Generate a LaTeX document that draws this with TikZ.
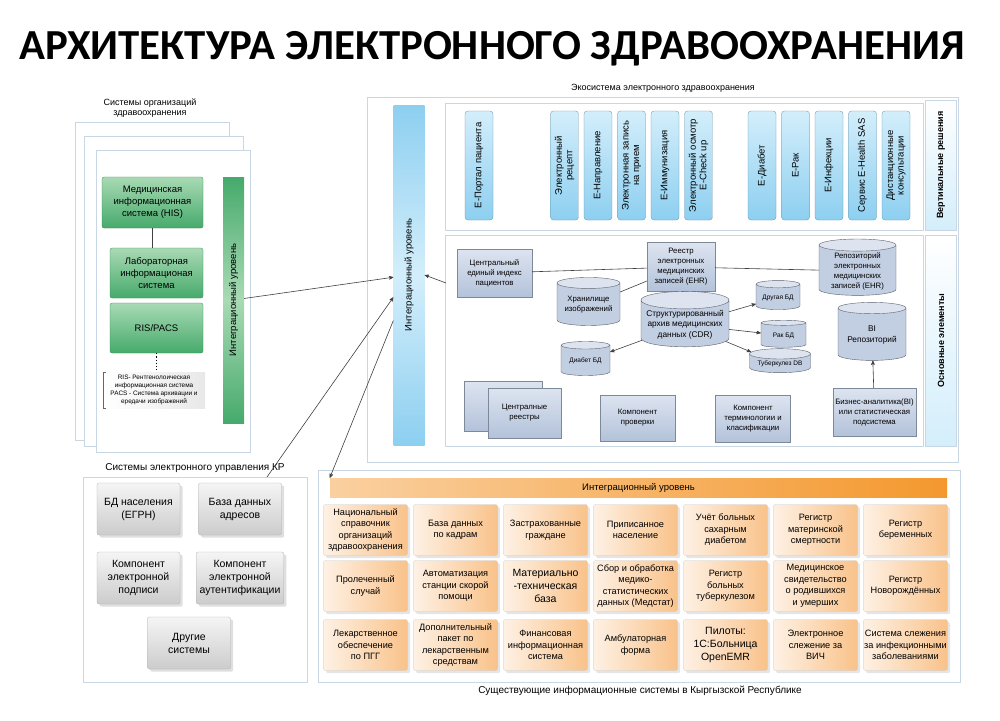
\documentclass[tikz,border=0pt]{standalone}
\usepackage{fontspec}
\setmainfont{Liberation Sans}
\newfontfamily\titlefont{Carlito}
\usepackage{tikz}
\usetikzlibrary{arrows,shapes.geometric,shadows}

\definecolor{framec}{HTML}{C9D6E4}
\definecolor{greenhi}{HTML}{A9DAB4}
\definecolor{greenlo}{HTML}{46AA6C}
\definecolor{bluehi}{HTML}{D3EEFB}
\definecolor{bluelo}{HTML}{8DCFF0}
\definecolor{corehi}{HTML}{DDE4F0}
\definecolor{corelo}{HTML}{B3C2DA}
\definecolor{orghi}{HTML}{FEF1E4}
\definecolor{orglo}{HTML}{F9C28A}
\definecolor{barhi}{HTML}{FAD0A0}
\definecolor{barlo}{HTML}{F4982E}

\tikzset{
  frame/.style={draw=framec, line width=1pt, fill=white},
  page/.style={draw=framec, line width=0.8pt, fill=white},
  caption/.style={font=\fontsize{9}{10.5}\selectfont, align=center},
  sidepanel/.style={rotate=90, draw=framec, line width=0.8pt, top color=white, bottom color=bluehi,
    font=\bfseries\fontsize{9}{10}\selectfont},
  medbox/.style={rectangle, rounded corners=2pt, top color=greenhi, bottom color=greenlo,
    draw=greenlo!80!black, line width=0.3pt, align=center, font=\fontsize{9.5}{12}\selectfont, inner sep=1pt},
  greenbar/.style={rotate=90, top color=greenlo, bottom color=greenlo, middle color=greenhi,
    font=\fontsize{9.5}{11}\selectfont},
  intbar/.style={rotate=90, top color=bluelo, bottom color=bluelo, middle color=bluehi,
    font=\fontsize{9.5}{11}\selectfont},
  vsol/.style={rotate=90, rounded corners=3pt, draw=bluelo!70!black, line width=0.3pt,
    top color=bluehi, bottom color=bluelo, minimum width=109pt, minimum height=28pt,
    inner sep=1pt, align=center, font=\fontsize{9.5}{10.5}\selectfont},
  corebox/.style={rectangle, draw=corelo!70!black, line width=0.3pt, top color=corehi,
    bottom color=corelo, minimum width=75pt, minimum height=47pt, inner sep=1pt, align=center,
    font=\fontsize{7.8}{10}\selectfont},
  coredb/.style={cylinder, shape border rotate=90, aspect=0.22, draw=corelo!50!black,
    line width=0.4pt, cylinder uses custom fill, cylinder body fill=corelo!80,
    cylinder end fill=corehi, inner sep=1pt, align=center, font=\fontsize{7.8}{10}\selectfont},
  govbox/.style={rectangle, rounded corners=2pt, draw=gray!60, line width=0.3pt, top color=gray!8,
    bottom color=gray!40, minimum width=83pt, minimum height=52pt, align=center,
    font=\fontsize{10.5}{13}\selectfont, drop shadow={opacity=0.25}},
  orgbox/.style={rectangle, rounded corners=2pt, draw=gray!40, line width=0.3pt, left color=orghi,
    right color=orglo, minimum width=84pt, minimum height=51pt, inner sep=0.5pt, align=center,
    font=\fontsize{9.2}{11.5}\selectfont, drop shadow={opacity=0.2}},
  link/.style={draw=black!75, line width=0.6pt},
}

\begin{document}
\begin{tikzpicture}[x=1pt,y=-1pt,>=stealth',node distance=90pt]
  \useasboundingbox[fill=white] (0,0) rectangle (1000,720);

  \node[font=\titlefont\bfseries\fontsize{42.8}{43}\selectfont] (title) at (492,49)
    {АРХИТЕКТУРА ЭЛЕКТРОННОГО ЗДРАВООХРАНЕНИЯ};

  % health organisations
  \node[caption] (orgcap) at (150,108) {Системы организаций\\здравоохранения};
  \draw[page] (75,122) rectangle (229,440);
  \draw[page] (84,136) rectangle (243,446);
  \draw[page] (96,150) rectangle (250,452);

  \node[medbox, minimum width=101pt, minimum height=51pt] (his) at (152.5,202.5)
    {Медицинская\\информационная\\система (HIS)};
  \node[medbox, minimum width=93pt, minimum height=50pt] (lis) at (156.5,273)
    {Лабораторная\\информационая\\система};
  \node[medbox, minimum width=93pt, minimum height=50pt] (ris) at (156.5,328) {RIS/PACS};
  \node[left color=white, right color=gray!18, minimum width=102pt, minimum height=36pt,
    inner sep=0pt, align=center, font=\fontsize{6.4}{8}\selectfont] (risnote) at (154,390)
    {RIS- Рентгенолоическая\\информационная система\\PACS - Система архивации и\\ередачи изображений};
  \draw[black!60, line width=0.5pt] ([xshift=3pt]risnote.north west) -| (risnote.south west)
    -- ([xshift=3pt]risnote.south west);
  \draw[link] (his.south) -- (his.south |- lis.north);
  \draw[dotted, line width=1.2pt] (ris.south) -- (ris.south |- risnote.north);

  \node[greenbar, minimum width=246pt, minimum height=21pt] (orgint) at (233.5,300)
    {Интеграционный уровень};

  % ecosystem
  \node[caption] (ecocap) at (663,88) {Экосистема электронного здравоохранения};
  \draw[frame] (367,97) rectangle (958,462);
  \draw[frame] (445,103) rectangle (923,230);
  \draw[frame] (445,235) rectangle (923,446);
  \node[sidepanel, minimum width=130pt, minimum height=31pt] (vpanel) at (941,165)
    {Вертикальные решения};
  \node[sidepanel, minimum width=211pt, minimum height=31pt] (cpanel) at (941,340.5)
    {Основные элементы};
  \node[intbar, minimum width=340pt, minimum height=31pt] (ecoint) at (409,275)
    {Интеграционный уровень};

  \node[vsol] (portal) at (479,165.5)   {E-Портал пациента};
  \node[vsol] (erx)    at (564.5,165.5) {Электронный\\рецепт};
  \node[vsol] (eref)   at (598,165.5)   {E-Направление};
  \node[vsol] (eapp)   at (631.5,165.5) {Электронная запись\\на прием};
  \node[vsol] (eimm)   at (665,165.5)   {E-Иммунизация};
  \node[vsol] (echeck) at (698.5,165.5) {Электронный осмотр\\E-Check up};
  \node[vsol] (ediab)  at (762,165.5)   {E-Диабет};
  \node[vsol] (ecanc)  at (795.5,165.5) {E-Рак};
  \node[vsol] (einf)   at (829,165.5)   {E-Инфекции};
  \node[vsol] (esas)   at (862.5,165.5) {Сервис E-Health SAS};
  \node[vsol] (etele)  at (896,165.5)   {Дистанционные\\консультации};

  \node[corebox, minimum height=48pt] (cidx) at (494.5,273) {Центральный\\единый индекс\\пациентов};
  \node[corebox, minimum width=68pt, minimum height=49pt] (ehr) at (681,267)
    {Реестр\\электронных\\медицинских\\записей (EHR)};
  \node[coredb, minimum width=77pt, minimum height=48pt] (repo) at (857.5,271)
    {Репозиторий\\электронных\\медицинских\\записей (EHR)};
  \node[coredb, minimum width=63pt, minimum height=48pt] (imgdb) at (588.5,305) {Хранилище\\изображений};
  \node[coredb, minimum width=88pt, minimum height=53pt, font=\fontsize{8.3}{10.5}\selectfont] (cdr)
    at (685,324.5) {Структурированный\\архив медицинских\\данных (CDR)};
  \node[coredb, minimum width=44pt, minimum height=29pt, font=\fontsize{6.5}{8}\selectfont] (otherdb)
    at (778,297.5) {Другая БД};
  \node[coredb, minimum width=45pt, minimum height=27pt, font=\fontsize{6.5}{8}\selectfont] (rakdb)
    at (783.5,335.5) {Рак БД};
  \node[coredb, minimum width=61pt, minimum height=24pt, font=\fontsize{6.5}{8}\selectfont] (tbdb)
    at (780,364) {Туберкулез DB};
  \node[coredb, minimum width=49pt, minimum height=34pt, font=\fontsize{6.5}{8}\selectfont] (diabdb)
    at (585.5,361) {Диабет БД};
  \node[coredb, minimum width=68pt, minimum height=58pt, font=\fontsize{8.3}{10.5}\selectfont] (bidb)
    at (872,335) {BI\\Репозиторий};
  \node[corebox, minimum width=78pt, minimum height=50pt] (regback) at (503,406) {};
  \node[corebox, minimum width=73pt, minimum height=50pt] (reg) at (524.5,413) {Централные\\реестры};
  \node[corebox, minimum height=46pt] (check) at (637.5,418) {Компонент\\проверки};
  \node[corebox] (term) at (753,419) {Компонент\\терминологии и\\класификации};
  \node[corebox, minimum width=83pt, minimum height=48pt] (bia) at (874.5,412)
    {Бизнес-аналитика(BI)\\или статистическая\\подсистема};

  \draw[link] (cidx) -- (ehr);
  \draw[link] (ehr) -- (repo);
  \draw[link] (ehr) -- (imgdb);
  \draw[link] (ehr) -- (cdr);
  \draw[link,->] (cdr) -- (otherdb);
  \draw[link,->] (cdr) -- (rakdb);
  \draw[link,->] (cdr) -- (tbdb);
  \draw[link,->] (cdr) -- (diabdb);
  \draw[link,->] (bia) -- (bidb);

  % e-government systems
  \node[caption, font=\fontsize{10}{12}\selectfont] (krcap) at (195,468) {Системы электронного управления КР};
  \draw[frame] (83,477) rectangle (307,682);
  \node[govbox] (popdb)  at (138.5,509) {БД населения\\(ЕГРН)};
  \node[govbox] (adrdb)  [right of=popdb, node distance=101.5pt] {База данных\\адресов};
  \node[govbox] (esign)  at (138.5,578) {Компонент\\электронной\\подписи};
  \node[govbox] (eauth)  [right of=esign, node distance=101.5pt] {Компонент\\электронной\\аутентификации};
  \node[govbox] (othsys) at (189,643) {Другие\\системы};

  % existing systems
  \draw[frame] (318,470) rectangle (960,682);
  \node[caption, font=\fontsize{10}{12}\selectfont] (excap) at (640,691)
    {Существующие информационные системы в Кыргызской Республике};
  \node[left color=barhi, right color=barlo, minimum width=617pt, minimum height=19pt, inner sep=0pt,
    font=\fontsize{9.5}{11}\selectfont] (orgbar) at (638.5,487.5) {Интеграционный уровень};

  \node[orgbox] (nsprav) at (365.5,530) {Национальный\\справочник\\организаций\\здравоохранения};
  \node[orgbox] (kadr)   [right of=nsprav] {База данных\\по кадрам};
  \node[orgbox] (insur)  [right of=kadr]   {Застрахованные\\граждане};
  \node[orgbox] (attach) [right of=insur]  {Приписанное\\население};
  \node[orgbox] (diab)   [right of=attach] {Учёт больных\\сахарным\\диабетом};
  \node[orgbox] (mmort)  [right of=diab]   {Регистр\\материнской\\смертности};
  \node[orgbox] (pregn)  [right of=mmort]  {Регистр\\беременных};

  \node[orgbox] (treat)  at (365.5,586) {Пролеченный\\случай};
  \node[orgbox] (ambul)  [right of=treat]  {Автоматизация\\станции скорой\\помощи};
  \node[orgbox, font=\fontsize{10.5}{13}\selectfont] (mtb) [right of=ambul] {Материально\\-техническая\\база};
  \node[orgbox] (medst)  [right of=mtb]    {Сбор и обработка\\медико-\\статистических\\данных (Медстат)};
  \node[orgbox] (tbreg)  [right of=medst]  {Регистр\\больных\\туберкулезом};
  \node[orgbox] (bdcert) [right of=tbreg]  {Медицинское\\свидетельство\\о родившихся\\и умерших};
  \node[orgbox] (newb)   [right of=bdcert] {Регистр\\Новорождённых};

  \node[orgbox] (drug)   at (365.5,645) {Лекарственное\\обеспечение\\по ПГГ};
  \node[orgbox] (dpack)  [right of=drug]   {Дополнительный\\пакет по\\лекарственным\\средствам};
  \node[orgbox] (fin)    [right of=dpack]  {Финансовая\\информационная\\система};
  \node[orgbox] (ambf)   [right of=fin]    {Амбулаторная\\форма};
  \node[orgbox, font=\fontsize{10.5}{13}\selectfont] (pilot) [right of=ambf] {Пилоты:\\1С:Больница\\OpenEMR};
  \node[orgbox] (hiv)    [right of=pilot]  {Электронное\\слежение за\\ВИЧ};
  \node[orgbox] (infect) [right of=hiv]    {Система слежения\\за инфекционными\\заболеваниями};

  % links to the integration layer
  \coordinate (kredge) at (267,477);
  \coordinate (coreedge) at (446,283);
  \draw[link,->] (orgint) -- (ecoint);
  \draw[link,->] (kredge) -- (ecoint);
  \draw[link,->] (coreedge) -- (ecoint.south);
  \draw[link,->] (ecoint.161) -- (orgbar.north west);

\end{tikzpicture}
\end{document}
